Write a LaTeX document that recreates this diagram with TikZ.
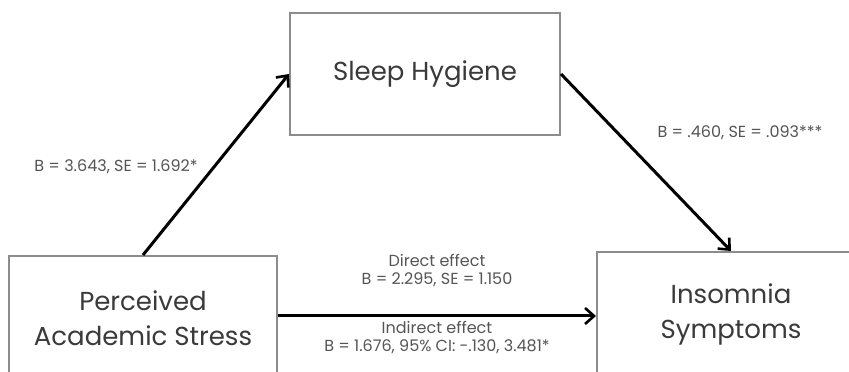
\documentclass[tikz,border=0pt]{standalone}
\usepackage{fontspec}
\setmainfont{Poppins}
\usetikzlibrary{arrows.meta}
\definecolor{boxgray}{HTML}{8C8C8C}
\definecolor{txtgray}{HTML}{3A3A3A}
\definecolor{lblgray}{HTML}{555555}
\tikzset{
  varbox/.style={draw=boxgray, line width=2pt, fill=white, align=center, text=txtgray,
    font=\fontsize{26}{35}\selectfont, inner sep=0pt},
  path/.style={line width=3pt, -{Straight Barb[length=9pt,width=16pt,line width=2.6pt]}, black},
  lbl/.style={text=lblgray, font=\fontsize{16}{18}\selectfont, inner sep=0pt, align=center}
}
\begin{document}
\begin{tikzpicture}[x=1pt,y=1pt]
\useasboundingbox (0,0) rectangle (849,372);
\fill[white] (0,0) rectangle (849,372);
\begin{scope}
\clip (0,0) rectangle (849,372);
\node[varbox, minimum width=270pt, minimum height=122pt] (sh) at (425,298) {Sleep Hygiene};
\node[varbox, minimum width=268pt, minimum height=124pt] (pas) at (143,54) {Perceived\\Academic Stress};
\node[varbox, minimum width=268pt, minimum height=124pt] (ins) at (731,58) {Insomnia\\Symptoms};
\end{scope}
\draw[path] (pas.north) -- (sh.west);
\draw[path] (sh.east) -- (ins.north);
\draw[path] ([yshift=2pt]pas.east) -- ([yshift=2pt]pas.east -| ins.west);
\node[lbl] (l1) at (116,205) {B = 3.643, SE = 1.692*};
\node[lbl] (l2) at (740,239) {B = .460, SE = .093***};
\node[lbl] (l3) at (437,101) {Direct effect\\B = 2.295, SE = 1.150};
\node[lbl] (l4) at (437,34) {Indirect effect\\B = 1.676, 95\% CI: -.130, 3.481*};
\end{tikzpicture}
\end{document}
